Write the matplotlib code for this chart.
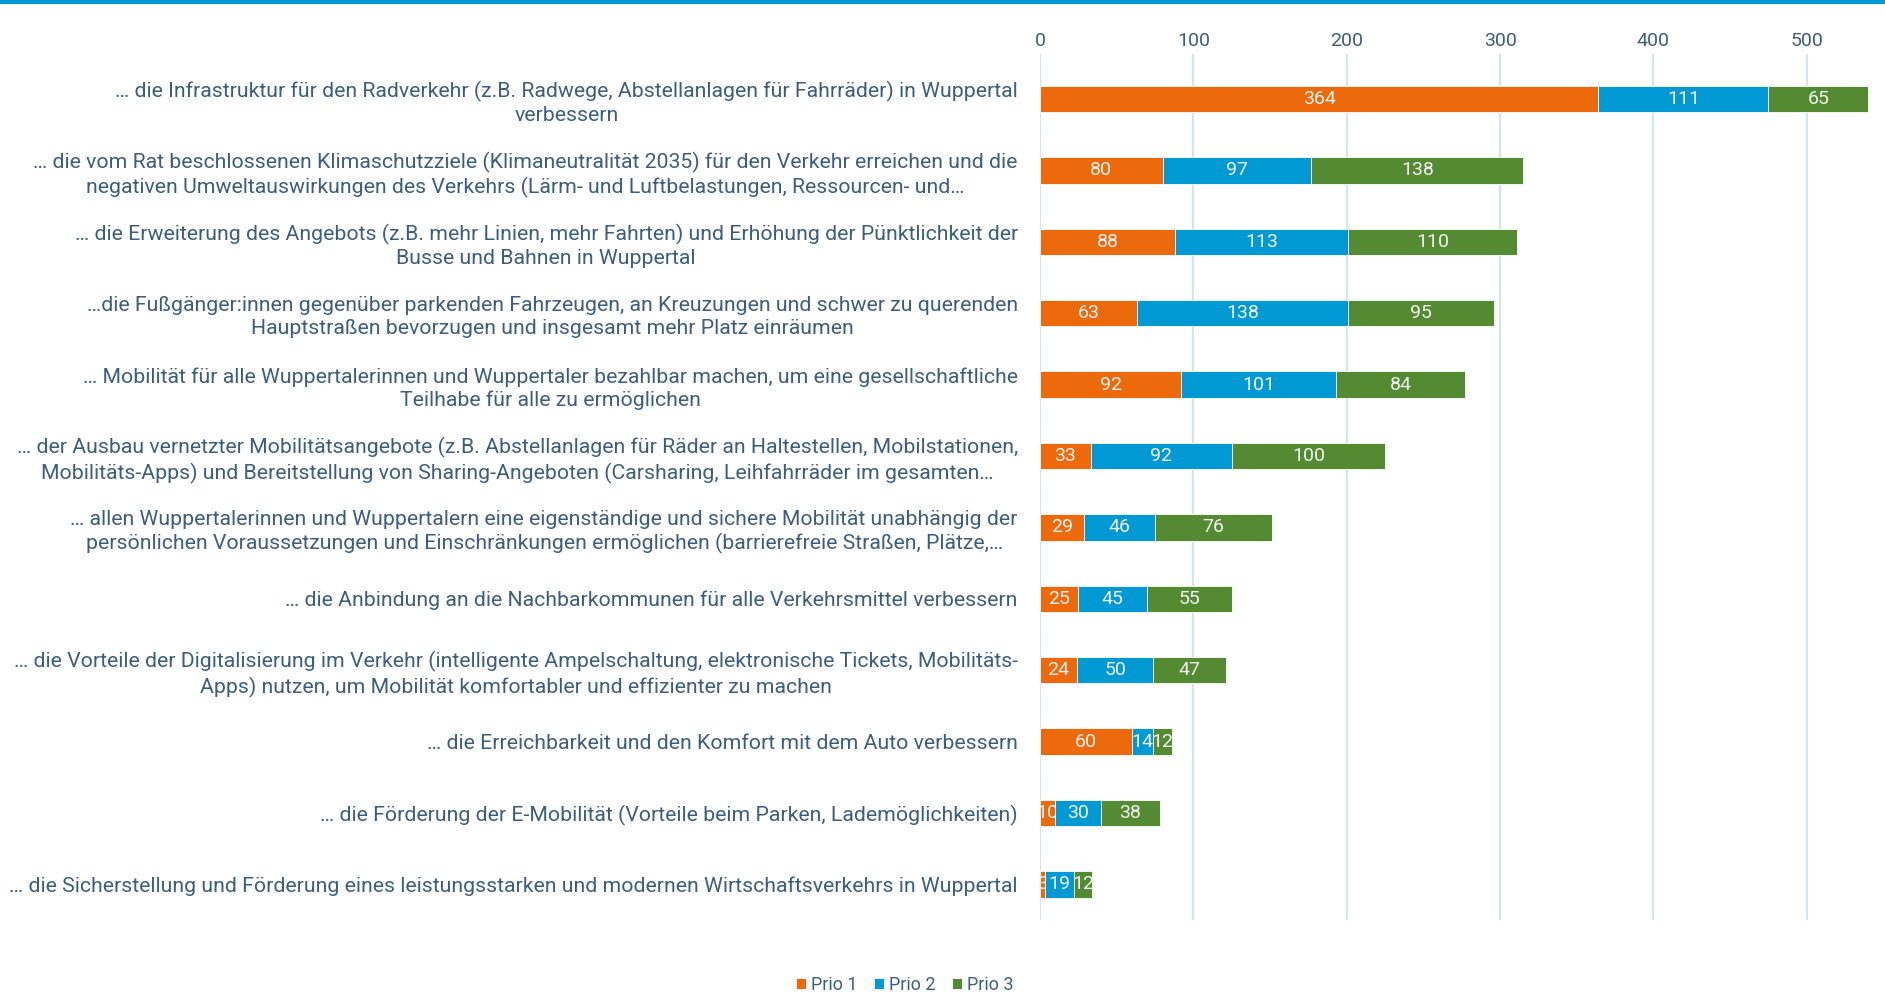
import matplotlib.pyplot as plt
from matplotlib.lines import Line2D

# Kategorien (von oben nach unten)
categories = [
    "… die Infrastruktur für den Radverkehr (z.B. Radwege, Abstellanlagen für Fahrräder) in Wuppertal\nverbessern",
    "… die vom Rat beschlossenen Klimaschutzziele (Klimaneutralität 2035) für den Verkehr erreichen und die\nnegativen Umweltauswirkungen des Verkehrs (Lärm- und Luftbelastungen, Ressourcen- und…",
    "… die Erweiterung des Angebots (z.B. mehr Linien, mehr Fahrten) und Erhöhung der Pünktlichkeit der\nBusse und Bahnen in Wuppertal",
    "…die Fußgänger:innen gegenüber parkenden Fahrzeugen, an Kreuzungen und schwer zu querenden\nHauptstraßen bevorzugen und insgesamt mehr Platz einräumen",
    "… Mobilität für alle Wuppertalerinnen und Wuppertaler bezahlbar machen, um eine gesellschaftliche\nTeilhabe für alle zu ermöglichen",
    "… der Ausbau vernetzter Mobilitätsangebote (z.B. Abstellanlagen für Räder an Haltestellen, Mobilstationen,\nMobilitäts-Apps) und Bereitstellung von Sharing-Angeboten (Carsharing, Leihfahrräder im gesamten…",
    "… allen Wuppertalerinnen und Wuppertalern eine eigenständige und sichere Mobilität unabhängig der\npersönlichen Voraussetzungen und Einschränkungen ermöglichen (barrierefreie Straßen, Plätze,…",
    "… die Anbindung an die Nachbarkommunen für alle Verkehrsmittel verbessern",
    "… die Vorteile der Digitalisierung im Verkehr (intelligente Ampelschaltung, elektronische Tickets, Mobilitäts-\nApps) nutzen, um Mobilität komfortabler und effizienter zu machen",
    "… die Erreichbarkeit und den Komfort mit dem Auto verbessern",
    "… die Förderung der E-Mobilität (Vorteile beim Parken, Lademöglichkeiten)",
    "… die Sicherstellung und Förderung eines leistungsstarken und modernen Wirtschaftsverkehrs in Wuppertal",
]

prio1 = [364, 80, 88, 63, 92, 33, 29, 25, 24, 60, 10, 3]
prio2 = [111, 97, 113, 138, 101, 92, 46, 45, 50, 14, 30, 19]
prio3 = [65, 138, 110, 95, 84, 100, 76, 55, 47, 12, 38, 12]

series_names = ["Prio 1", "Prio 2", "Prio 3"]
colors = ["#EC6A0C", "#0099D3", "#548A31"]
text_color = "#3B5E7E"

plt.rcParams['font.family'] = ['Roboto', 'DejaVu Sans']

fig = plt.figure(figsize=(18.85, 9.92), dpi=100)
ax = fig.add_axes([1040 / 1885, 1 - 920 / 992, 1 - 1040 / 1885, (920 - 54) / 992])

# blaue Linie ganz oben
fig.add_artist(Line2D([0, 1], [1 - 2 / 992, 1 - 2 / 992], color="#0099D3", lw=3))

y = list(range(len(categories)))
left = [0] * len(categories)
for vals, name, col in zip([prio1, prio2, prio3], series_names, colors):
    bars = ax.barh(y, vals, left=left, height=0.37, color=col, label=name,
                   edgecolor="#ffffff", linewidth=0.6, zorder=3)
    ax.bar_label(bars, labels=[str(v) for v in vals], label_type="center",
                 color="#F2F2F2", fontsize=14)
    left = [a + b for a, b in zip(left, vals)]

ax.set_xlim(0, 551)
ax.set_ylim(11.5, -0.63)
ax.set_xticks([0, 100, 200, 300, 400, 500])
ax.xaxis.tick_top()
ax.tick_params(axis="x", length=0, pad=3, labelsize=14, labelcolor=text_color)
ax.set_yticks(y)
ax.set_yticklabels(categories, fontsize=15.3, color=text_color, ha="right",
                   multialignment="center", linespacing=1.28)
ax.tick_params(axis="y", length=0, pad=16)
ax.grid(axis="x", color="#D3E5F5", lw=1.5, zorder=0)
ax.set_axisbelow(True)
for s in ax.spines.values():
    s.set_visible(False)

fig.legend(loc="lower center", bbox_to_anchor=(0.48, -0.018), ncol=3, frameon=False,
           fontsize=13, labelcolor=text_color, handlelength=0.55, handleheight=0.55,
           handletextpad=0.3, columnspacing=0.9)

fig.savefig("out.png", dpi=100)
